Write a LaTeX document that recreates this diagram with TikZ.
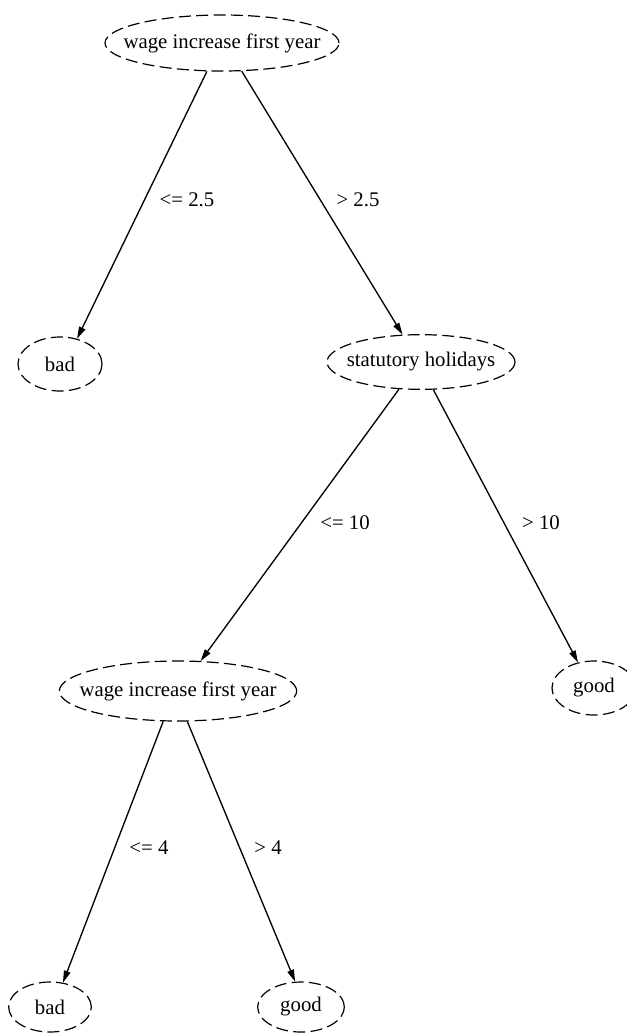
\documentclass[tikz,border=0pt]{standalone}
\usepackage{fontspec}
\setmainfont{Liberation Serif}
\usetikzlibrary{arrows.meta,shapes.geometric}
\newcommand{\zw}[1]{\makebox[0pt]{#1}}
\begin{document}
\begin{tikzpicture}[x=0.75pt,y=-0.75pt,
  tnode/.style={ellipse,draw,dashed,dash pattern=on 9pt off 4pt,line width=0.9pt,inner sep=0pt,font=\fontsize{15.6pt}{18pt}\selectfont},
  elabel/.style={inner sep=0pt,font=\fontsize{15.6pt}{18pt}\selectfont},
  edge/.style={draw,line width=1pt,-{Triangle[length=9pt,width=5pt]}}]
\clip (0,0) rectangle (627,1036);
\node[tnode,minimum width=175.5pt,minimum height=42pt] (root) at (222,43) {\zw{wage increase first year}};
\node[tnode,minimum width=63pt,minimum height=40.5pt] (bad1) at (60,364) {\zw{bad}};
\node[tnode,minimum width=141pt,minimum height=41pt] (stat) at (421,362) {\zw{statutory holidays}};
\node[tnode,minimum width=178pt,minimum height=45pt] (wage2) at (178,691) {\zw{wage increase first year}};
\node[tnode,minimum width=63pt,minimum height=40.5pt] (good1) at (594,688) {\zw{good}};
\node[tnode,minimum width=62pt,minimum height=37.5pt] (bad2) at (50,1007) {\zw{bad}};
\node[tnode,minimum width=65pt,minimum height=37.5pt] (good2) at (301,1007) {\zw{good}};
\node[elabel] (l1) at (187,200) {<= 2.5};
\node[elabel] (l2) at (358,200) {> 2.5};
\node[elabel] (l3) at (345,523) {<= 10};
\node[elabel] (l4) at (541,523) {> 10};
\node[elabel] (l5) at (149,848) {<= 4};
\node[elabel] (l6) at (268,848) {> 4};
\path[edge] (root.242.6) -- (bad1.56.3);
\path[edge] (root.305.9) -- (stat.124.6);
\path[edge] (stat.231.8) -- (wage2.53.7);
\path[edge] (stat.294.9) -- (good1.122.3);
\path[edge] (wage2.244.2) -- (bad2.62.5);
\path[edge] (wage2.287.9) -- (good2.103.5);
\end{tikzpicture}
\end{document}
